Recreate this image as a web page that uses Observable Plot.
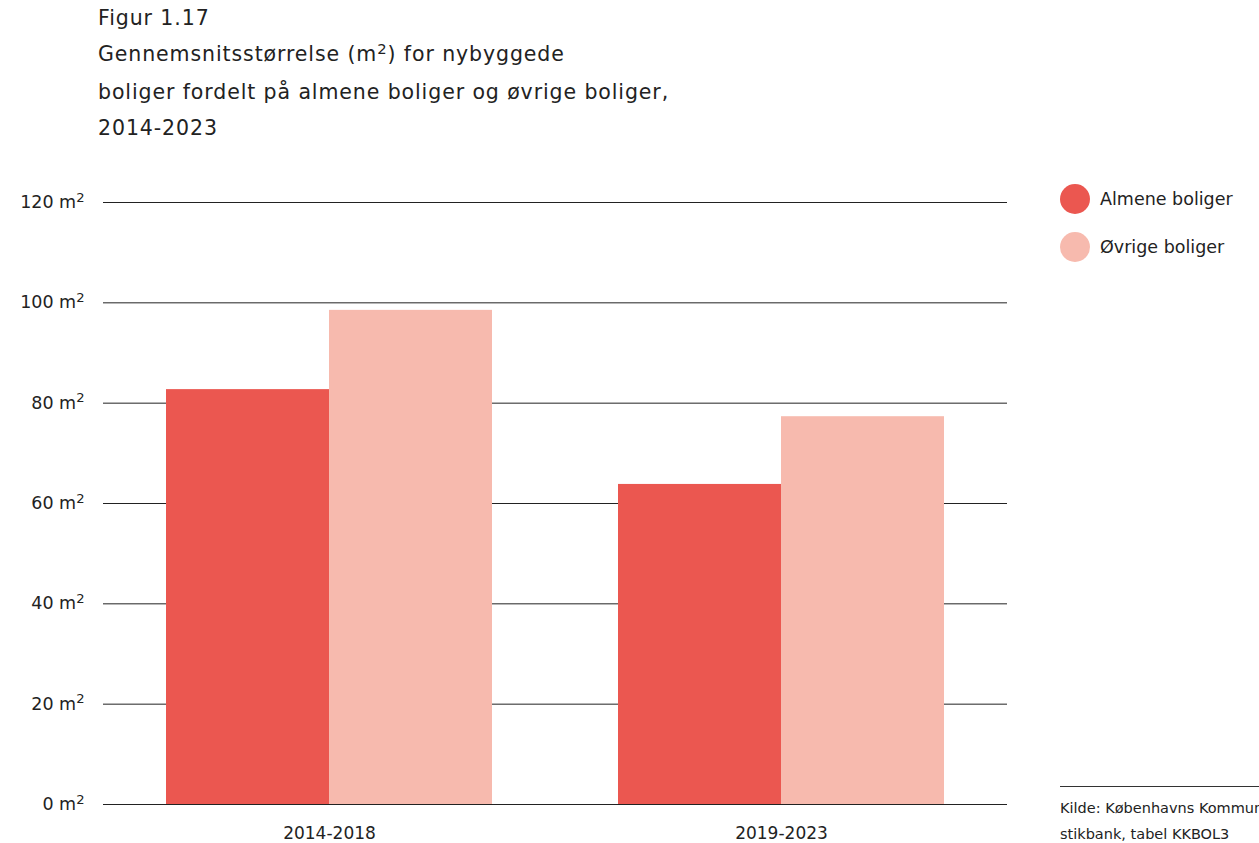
<!DOCTYPE html>
<html>
<head>
<meta charset="utf-8">
<script src="https://cdn.jsdelivr.net/npm/d3@7"></script>
<script src="https://cdn.jsdelivr.net/npm/@observablehq/plot@0.6"></script>
<style>
  html, body { margin: 0; padding: 0; background: #fff; width: 1259px; height: 843px; overflow: hidden; }
  body { position: relative; color: #222; }
  #title { position: absolute; left: 98px; top: 0px; font-family: "DejaVu Sans", sans-serif; font-size: 20.5px; letter-spacing: 0.9px; line-height: 36px; color: #222; white-space: nowrap; }
  #title .sup { font-size: 0.72em; position: relative; top: -0.5em; }
  #chart { position: absolute; left: 0; top: 150px; }
  .legend { position: absolute; left: 1060px; font-family: "DejaVu Sans", sans-serif; font-size: 17.5px; color: #222; }
  .legend .item { display: flex; align-items: center; height: 30px; margin-bottom: 18px; }
  .legend .sw { width: 30px; height: 30px; border-radius: 50%; margin-right: 10px; }
  #source { position: absolute; left: 1060px; top: 786px; width: 199px; overflow: hidden; border-top: 1px solid #333; font-family: "DejaVu Sans", sans-serif; font-size: 14.5px; line-height: 26px; padding-top: 8px; color: #222; white-space: nowrap; }
</style>
</head>
<body>
<div id="title">Figur 1.17<br>Gennemsnitsstørrelse (m<span class="sup">2</span>) for nybyggede<br>boliger fordelt på almene boliger og øvrige boliger,<br>2014-2023</div>
<div id="chart"></div>
<div class="legend" id="legend" style="top:184px"></div>
<div id="source">Kilde: Københavns Kommunes Stati-<br>stikbank, tabel KKBOL3</div>
<script>
const periods = ["2014-2018", "2019-2023"];
const series = ["Almene boliger", "Øvrige boliger"];
const almene = [82.7, 63.8];
const ovrige = [98.5, 77.3];
const colors = ["#EB5750", "#F7BAAE"];
const yTicks = [0, 20, 40, 60, 80, 100, 120];

const data = [];
periods.forEach((p, i) => {
  data.push({period: p, series: series[0], value: almene[i]});
  data.push({period: p, series: series[1], value: ovrige[i]});
});

const chart = Plot.plot({
  width: 1259,
  height: 693,
  marginLeft: 103,
  marginRight: 252,
  marginTop: 52,
  marginBottom: 39,
  style: {fontFamily: "'DejaVu Sans', sans-serif", fontSize: "17px", color: "#222", background: "#fff"},
  fx: {domain: periods, padding: 0, axis: "bottom", label: null, tickSize: 0, tickPadding: 22},
  x: {domain: series, paddingInner: 0, paddingOuter: 0.3865, axis: null},
  y: {domain: [0, 120], ticks: yTicks, tickFormat: d => `${d} m²`, tickSize: 0, tickPadding: 19, label: null},
  color: {domain: series, range: colors},
  marks: [
    Plot.ruleY(yTicks, {stroke: "#222", strokeWidth: 1}),
    Plot.barY(data, {fx: "period", x: "series", y: "value", fill: "series"})
  ]
});
document.getElementById("chart").appendChild(chart);

// render the "²" in the y tick labels as a real superscript
d3.select(chart).selectAll("text").each(function() {
  const t = this.textContent;
  if (/ m²$/.test(t)) {
    const sel = d3.select(this);
    sel.attr("font-size", "17.5px");
    sel.text(t.slice(0, -1));
    sel.append("tspan").attr("font-size", "0.75em").attr("dy", "-0.5em").text("2");
  }
});

const legend = document.getElementById("legend");
series.forEach((s, i) => {
  const item = document.createElement("div");
  item.className = "item";
  const sw = document.createElement("div");
  sw.className = "sw";
  sw.style.background = colors[i];
  const label = document.createElement("span");
  label.textContent = s;
  item.appendChild(sw);
  item.appendChild(label);
  legend.appendChild(item);
});
</script>
</body>
</html>
